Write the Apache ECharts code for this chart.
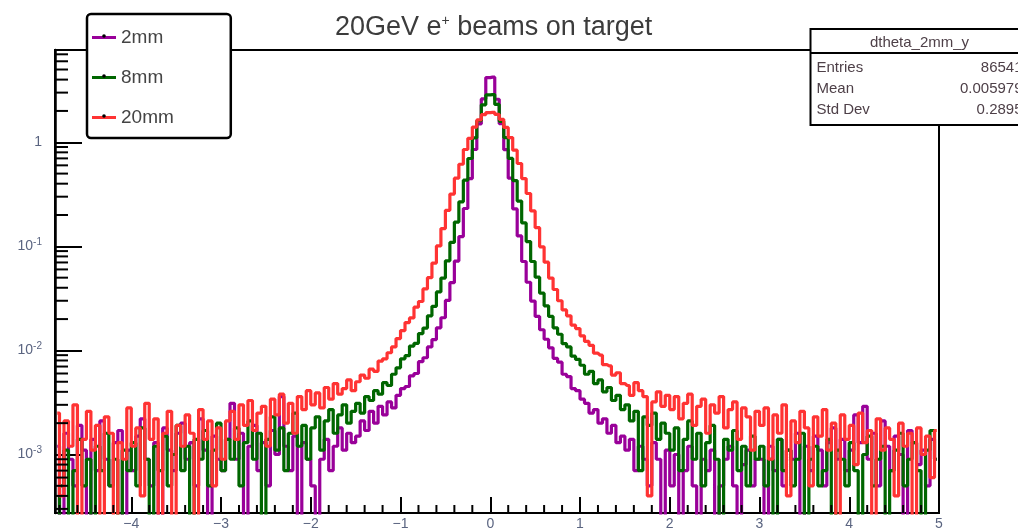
<!DOCTYPE html>
<html>
<head>
<meta charset="utf-8">
<script src="https://cdn.jsdelivr.net/npm/echarts@6/dist/echarts.min.js"></script>
<style>
  html, body { margin: 0; padding: 0; background: #fff; }
  #chart { width: 1018px; height: 531px; }
</style>
</head>
<body>
<div id="chart"></div>
<script>
// histogram bins: 0.05 wide, first visible bin edge at -4.85
const binLow = -4.85;
const binWidth = 0.05;

// dtheta_2mm_y (purple)
const h2mm = [
  0.0012, 0.0002, 0.0016, 0.0009, 0.0005, 0.0019, 0.0011, 0.0002, 0.0014, 0.0007,
  0.0021, 0.0009, 0.0005, 0.0013, 0.0017, 0.0002, 0.0011, 0.0007, 0.0015, 0.0022,
  0.0009, 0.0005, 0.0013, 0.0002, 0.0018, 0.0011, 0.0007, 0.0016, 0.0020, 0.0009,
  0.0013, 0.0005, 0.0022, 0.0011, 0.0002, 0.0015, 0.0009,
  0.0007, 0.0014, 0.0031, 0.0009, 0.0016, 0.0002, 0.0012, 0.0019, 0.0007, 0.0013,
  0.0005, 0.0017, 0.0010, 0.0036, 0.0012, 0.0007, 0.0015, 0.0002, 0.0013, 0.0009,
  0.0005, 0.0002, 0.0009, 0.0014, 0.0007, 0.0012, 0.0018, 0.0011, 0.0016, 0.0013,
  0.0015, 0.0021, 0.0017, 0.0026, 0.0020, 0.0029, 0.0024, 0.0032, 0.0028, 0.0037,
  0.0043, 0.0045, 0.0057, 0.0060, 0.0078, 0.0085, 0.0108, 0.0127, 0.0165, 0.0206,
  0.0302, 0.0448, 0.0722, 0.124, 0.231, 0.448, 0.852, 1.50, 2.61, 4.18,
  4.22, 2.59, 1.51, 0.848, 0.452, 0.229, 0.126, 0.0715, 0.0452, 0.0298,
  0.0212, 0.0158, 0.0128, 0.0106, 0.0084, 0.0077, 0.0059, 0.0056, 0.0043, 0.0041,
  0.0034, 0.0031, 0.0025, 0.0027, 0.0020, 0.0022, 0.0016, 0.0019, 0.0013, 0.0015,
  0.0011, 0.0014, 0.0007, 0.0012, 0.0009, 0.0005, 0.0013, 0.0009, 0.0002, 0.0011,
  0.0005, 0.0010, 0.0002, 0.0007, 0.0012, 0.0005, 0.0002, 0.0009, 0.0007, 0.0011,
  0.0002, 0.0005, 0.0009, 0.0012, 0.0005, 0.0002, 0.0008, 0.0011, 0.0005, 0.0009,
  0.0009, 0.0002, 0.0012, 0.0007, 0.0014, 0.0005, 0.0011, 0.0009, 0.0016, 0.0002,
  0.0012, 0.0007, 0.0015, 0.0011, 0.0005, 0.0013, 0.0018, 0.0009, 0.0014, 0.0007,
  0.0011, 0.0024, 0.0013, 0.0029, 0.0009, 0.0016, 0.0005, 0.0021, 0.0012, 0.0007,
  0.0015, 0.0010, 0.0002, 0.0017, 0.0013, 0.0008, 0.0011, 0.0005, 0.0014, 0.0009
];

// 8mm (green)
const h8mm = [
  0.0002, 0.0005, 0.0011, 0.0002, 0.0007, 0.0014, 0.0005, 0.0009, 0.0002, 0.0012,
  0.0007, 0.0016, 0.0005, 0.0009, 0.0002, 0.0011, 0.0007, 0.0013, 0.0005, 0.0018,
  0.0009, 0.0002, 0.0012, 0.0007, 0.0015, 0.0005, 0.0010, 0.0019, 0.0007, 0.0012,
  0.0002, 0.0014, 0.0009, 0.0017, 0.0005, 0.0011, 0.0020,
  0.0007, 0.0014, 0.0009, 0.0018, 0.0005, 0.0013, 0.0021, 0.0009, 0.0016, 0.0002,
  0.0014, 0.0023, 0.0011, 0.0018, 0.0007, 0.0016, 0.0025, 0.0012, 0.0019, 0.0009,
  0.0018, 0.0023, 0.0011, 0.0021, 0.0027, 0.0016, 0.0024, 0.0030, 0.0020, 0.0026,
  0.0031, 0.0025, 0.0036, 0.0033, 0.0041, 0.0038, 0.0049, 0.0046, 0.0059, 0.0068,
  0.0083, 0.0089, 0.0110, 0.0117, 0.0145, 0.0164, 0.0215, 0.0265, 0.0365, 0.0495,
  0.0725, 0.109, 0.171, 0.268, 0.432, 0.698, 1.10, 1.61, 2.29, 2.85,
  2.87, 2.31, 1.59, 1.11, 0.70, 0.428, 0.272, 0.168, 0.111, 0.0715,
  0.0505, 0.0355, 0.0268, 0.0212, 0.0165, 0.0143, 0.0116, 0.0108, 0.0088, 0.0082,
  0.0072, 0.0059, 0.0063, 0.0048, 0.0052, 0.0040, 0.0044, 0.0033, 0.0037, 0.0027,
  0.0030, 0.0021, 0.0026, 0.0007, 0.0023, 0.0019, 0.0025, 0.0014, 0.0020, 0.0016,
  0.0011, 0.0018, 0.0007, 0.0014, 0.0021, 0.0009, 0.0016, 0.0005, 0.0013, 0.0019,
  0.0009, 0.0002, 0.0014, 0.0011, 0.0017, 0.0007, 0.0012, 0.0005, 0.0015, 0.0009,
  0.0012, 0.0005, 0.0009, 0.0002, 0.0014, 0.0007, 0.0011, 0.0005, 0.0009, 0.0016,
  0.0002, 0.0009, 0.0012, 0.0005, 0.0007, 0.0014, 0.0002, 0.0011, 0.0009, 0.0005,
  0.0013, 0.0007, 0.0002, 0.0010, 0.0015, 0.0005, 0.0009, 0.0012, 0.0002, 0.0007,
  0.0011, 0.0016, 0.0005, 0.0009, 0.0013, 0.0007, 0.0002, 0.0011, 0.0017, 0.0009
];

// 20mm (red)
const h20mm = [
  0.0025, 0.0004, 0.0021, 0.0012, 0.0030, 0.0002, 0.0014, 0.0026, 0.0011, 0.0019,
  0.0002, 0.0023, 0.0016, 0.0002, 0.0013, 0.0009, 0.0028, 0.0012, 0.0018, 0.0004,
  0.0031, 0.0014, 0.0022, 0.0002, 0.0016, 0.0026, 0.0002, 0.0019, 0.0012, 0.0024,
  0.0016, 0.0002, 0.0027, 0.0014, 0.0021, 0.0005, 0.0018,
  0.0009, 0.0021, 0.0026, 0.0014, 0.0030, 0.0019, 0.0033, 0.0017, 0.0025, 0.0029,
  0.0012, 0.0034, 0.0024, 0.0038, 0.0020, 0.0031, 0.0016, 0.0036, 0.0027, 0.0041,
  0.0030, 0.0039, 0.0028, 0.0044, 0.0034, 0.0048, 0.0038, 0.0043, 0.0052, 0.0041,
  0.0050, 0.0058, 0.0054, 0.0066, 0.0063, 0.0079, 0.0083, 0.0095, 0.0108, 0.0130,
  0.0155, 0.0185, 0.0205, 0.0260, 0.0295, 0.0390, 0.0500, 0.0690, 0.1010, 0.1480,
  0.222, 0.318, 0.452, 0.615, 0.852, 1.09, 1.40, 1.64, 1.84, 1.93,
  1.94, 1.85, 1.66, 1.39, 1.11, 0.84, 0.625, 0.448, 0.322, 0.219,
  0.151, 0.099, 0.0705, 0.0495, 0.0385, 0.0300, 0.0245, 0.0215, 0.0175, 0.0162,
  0.0138, 0.0122, 0.0112, 0.0094, 0.0090, 0.0073, 0.0071, 0.0058, 0.0061, 0.0048,
  0.0046, 0.0037, 0.0049, 0.0041, 0.0036, 0.0004, 0.0032, 0.0040, 0.0029, 0.0037,
  0.0027, 0.0036, 0.0022, 0.0031, 0.0038, 0.0019, 0.0029, 0.0034, 0.0016, 0.0030,
  0.0025, 0.0036, 0.0018, 0.0027, 0.0032, 0.0014, 0.0028, 0.0023, 0.0011, 0.0026,
  0.0019, 0.0028, 0.0009, 0.0024, 0.0016, 0.0030, 0.0004, 0.0021, 0.0013, 0.0026,
  0.0018, 0.0005, 0.0023, 0.0015, 0.0027, 0.0011, 0.0020, 0.0002, 0.0024, 0.0014,
  0.0019, 0.0008, 0.0025, 0.0013, 0.0017, 0.0002, 0.0022, 0.0011, 0.0018, 0.0014,
  0.0004, 0.0020, 0.0012, 0.0016, 0.0002, 0.0018, 0.0010, 0.0015, 0.0006, 0.0017
];

const seriesNames = ['2mm', '8mm', '20mm'];
const seriesColors = ['#990099', '#006600', '#ff3333'];

// axis ranges and ROOT-like minor ticks
const xMin = -4.85, xMax = 5;
const yMin = 0.000274, yMax = 7.7;
const xMinorTicks = [-4.8, -4.6, -4.4, -4.2, -3.8, -3.6, -3.4, -3.2, -2.8, -2.6, -2.4, -2.2,
  -1.8, -1.6, -1.4, -1.2, -0.8, -0.6, -0.4, -0.2, 0.2, 0.4, 0.6, 0.8, 1.2, 1.4, 1.6, 1.8,
  2.2, 2.4, 2.6, 2.8, 3.2, 3.4, 3.6, 3.8, 4.2, 4.4, 4.6, 4.8];
const yMinorTicks = [
  0.0003, 0.0004, 0.0005, 0.0006, 0.0007, 0.0008, 0.0009,
  0.002, 0.003, 0.004, 0.005, 0.006, 0.007, 0.008, 0.009,
  0.02, 0.03, 0.04, 0.05, 0.06, 0.07, 0.08, 0.09,
  0.2, 0.3, 0.4, 0.5, 0.6, 0.7, 0.8, 0.9,
  2, 3, 4, 5, 6, 7
];

const statsRows = [['Entries', '86541'], ['Mean', '0.005979'], ['Std Dev', '0.2895']];

const binCenters = h2mm.map((v, i) => +(binLow + binWidth * (i + 0.5)).toFixed(3));
const allHists = [h2mm, h8mm, h20mm];

const chart = echarts.init(document.getElementById('chart'));
const font = 'Liberation Sans, Arial, sans-serif';
const labelColor = '#5a6480';
const statColor = '#4e4048';

function tickSeries(ticks, isX) {
  return {
    type: 'custom',
    silent: true,
    clip: false,
    z: 5,
    data: ticks.map(v => isX ? [v, yMin] : [xMin, v]),
    renderItem: function (params, api) {
      const p = api.coord([api.value(0), api.value(1)]);
      const shape = isX
        ? { x1: p[0], y1: p[1], x2: p[0], y2: p[1] - 8 }
        : { x1: p[0], y1: p[1], x2: p[0] + 13, y2: p[1] };
      return { type: 'line', shape: shape, style: { stroke: '#000', lineWidth: 2 } };
    }
  };
}

const series = allHists.map((h, k) => ({
  name: seriesNames[k],
  type: 'line',
  step: 'middle',
  symbol: 'none',
  clip: true,
  z: 2 + k,
  lineStyle: { color: seriesColors[k], width: 3.2 },
  itemStyle: { color: seriesColors[k] },
  data: binCenters.map((x, i) => [x, h[i]])
}));
series.push(tickSeries(xMinorTicks, true));
series.push(tickSeries(yMinorTicks, false));

// small black marker dots in the legend line samples
const legendDots = [36, 76, 116].map(y => ({
  type: 'circle', z: 100, shape: { cx: 104, cy: y, r: 1.8 }, style: { fill: '#000' }
}));

const option = {
  animation: false,
  backgroundColor: '#fff',
  title: {
    text: '{a|20GeV e}{s|+}{a| beams on target}',
    left: 330,
    top: 9,
    textStyle: {
      rich: {
        a: { fontSize: 27, fontWeight: 'normal', fontFamily: font, color: '#3c3c3c' },
        s: { fontSize: 14, fontWeight: 'normal', fontFamily: font, color: '#3c3c3c', verticalAlign: 'top', padding: [0, 0, 13, 0] }
      }
    }
  },
  legend: {
    data: seriesNames.map(n => ({ name: n, icon: 'rect' })),
    orient: 'vertical',
    left: 87,
    top: 14,
    padding: [14, 57, 11, 5],
    itemGap: 21,
    itemWidth: 24,
    itemHeight: 3,
    borderColor: '#000',
    borderWidth: 2.5,
    borderRadius: 4,
    backgroundColor: '#fff',
    textStyle: { fontSize: 19, fontFamily: font, color: '#444' }
  },
  grid: {
    left: 55, right: 79, top: 50, bottom: 14,
    show: true, borderColor: '#000', borderWidth: 2, backgroundColor: 'transparent'
  },
  xAxis: {
    type: 'value',
    min: xMin,
    max: xMax,
    splitNumber: 10,
    splitLine: { show: false },
    axisLine: { onZero: false, lineStyle: { color: '#000', width: 2 } },
    axisTick: { inside: true, length: 16, lineStyle: { color: '#000', width: 2 } },
    axisLabel: {
      showMinLabel: false,
      margin: 4,
      fontSize: 14,
      fontFamily: font,
      color: labelColor,
      formatter: v => v < 0 ? '\u2212' + (-v) : String(v)
    }
  },
  yAxis: {
    type: 'log',
    logBase: 10,
    min: yMin,
    max: yMax,
    splitLine: { show: false },
    axisLine: { onZero: false, lineStyle: { color: '#000', width: 2.5 } },
    axisTick: { inside: true, length: 27, lineStyle: { color: '#000', width: 2 } },
    axisLabel: {
      showMinLabel: false,
      showMaxLabel: false,
      margin: 13,
      fontFamily: font,
      color: labelColor,
      formatter: function (v) {
        const e = Math.round(Math.log10(v));
        return e === 0 ? '{b|1}' : '{b|10}{s|' + e + '}';
      },
      rich: {
        b: { fontSize: 14, fontFamily: font, color: labelColor },
        s: { fontSize: 10, fontFamily: font, color: labelColor, verticalAlign: 'top', padding: [0, 0, 9, 0] }
      }
    }
  },
  series: series,
  graphic: legendDots.concat([{
    type: 'group',
    left: 808,
    top: 28,
    z: 100,
    children: [
      { type: 'rect', shape: { x: 0, y: 0, width: 218, height: 96 }, style: { fill: '#fff', stroke: '#000', lineWidth: 2 } },
      { type: 'line', shape: { x1: 0, y1: 24, x2: 218, y2: 24 }, style: { stroke: '#000', lineWidth: 2 } },
      { type: 'text', x: 109, y: 14, style: { text: 'dtheta_2mm_y', fontSize: 15, fontFamily: font, fill: statColor, align: 'center', verticalAlign: 'middle' } }
    ].concat(statsRows.flatMap((r, i) => [
      { type: 'text', x: 6, y: 39 + i * 21, style: { text: r[0], fontSize: 15, fontFamily: font, fill: statColor, align: 'left', verticalAlign: 'middle' } },
      { type: 'text', x: 212, y: 39 + i * 21, style: { text: r[1], fontSize: 15, fontFamily: font, fill: statColor, align: 'right', verticalAlign: 'middle' } }
    ]))
  }])
};

chart.setOption(option);
</script>
</body>
</html>
